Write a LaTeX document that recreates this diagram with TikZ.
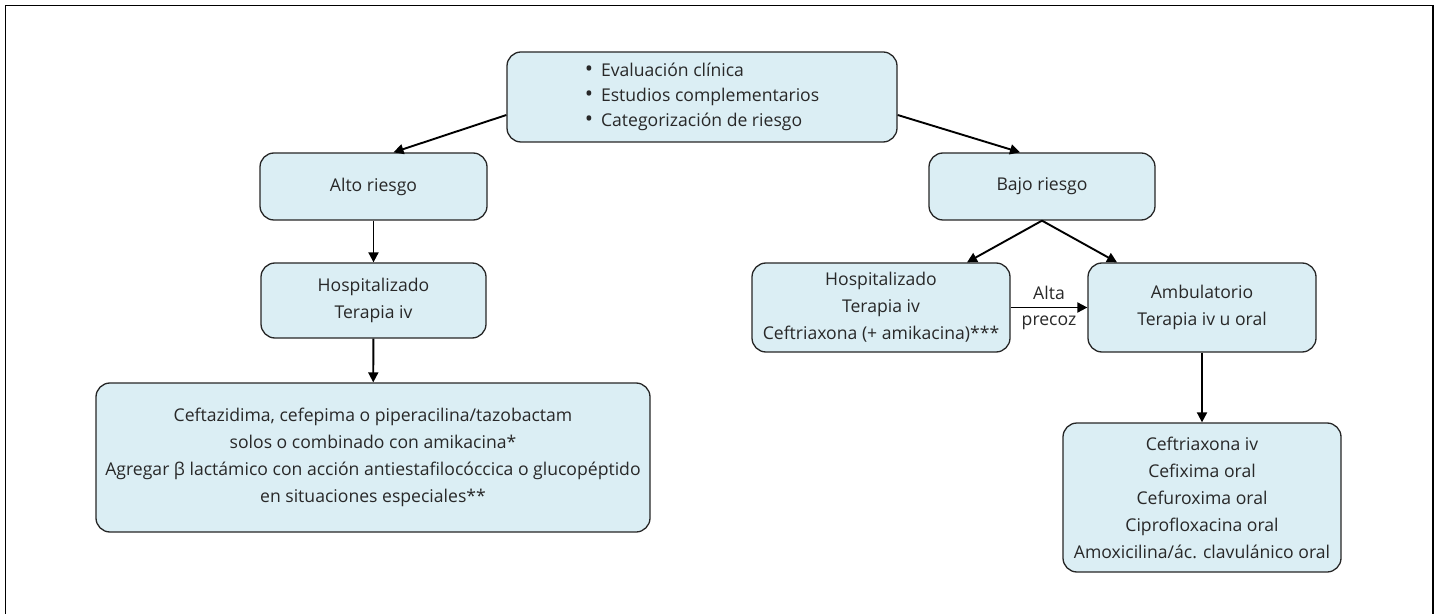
\documentclass[tikz,border=0pt]{standalone}
\usepackage{fontspec}
\setmainfont{Open Sans}
\usetikzlibrary{arrows.meta}
\definecolor{boxfill}{RGB}{219,238,244}
\definecolor{txt}{RGB}{40,40,40}
\newcommand{\bul}{{\fontsize{11}{12}\selectfont\textbullet}\hspace{4pt}}
\tikzset{
  box/.style={draw=black!85, line width=0.65pt, fill=boxfill, rounded corners=7pt,
    align=center, text=txt, font=\fontsize{8.8}{13.5}\selectfont, inner sep=0pt},
  arr/.style={-{Triangle[length=5pt,width=5pt]}, line width=0.95pt},
  lbl/.style={align=center, text=txt, font=\fontsize{8.8}{13}\selectfont, inner sep=0pt},
}
\begin{document}
\begin{tikzpicture}[x=0.5pt,y=-0.5pt]
\useasboundingbox (0,0) rectangle (1438,614);
\draw[line width=0.8pt] (5.5,630) -- (5.5,5.5) -- (1433,5.5) -- (1433,630);

\node[box, minimum width=195pt, minimum height=45pt, font=\fontsize{8.8}{12.5}\selectfont, align=left] (top) at (702,97)
  {\bul Evaluación clínica\\
   \bul Estudios complementarios\\
   \bul Categorización de riesgo};
\node[box, minimum width=113.5pt, minimum height=33.5pt] (alto) at (373.5,186.5) {Alto riesgo};
\node[box, minimum width=112.5pt, minimum height=37.5pt] (hospL) at (373.5,300.5) {Hospitalizado\\Terapia iv};
\node[box, minimum width=277pt, minimum height=74.5pt] (big) at (373,457.5)
  {Ceftazidima, cefepima o piperacilina/tazobactam\\
   solos o combinado con amikacina*\\
   Agregar β lactámico con acción antiestafilocóccica o glucopéptido\\
   en situaciones especiales**};
\node[box, minimum width=113pt, minimum height=33.5pt] (bajo) at (1042,186.5) {Bajo riesgo};
\node[box, minimum width=129pt, minimum height=44.5pt] (hospR) at (881,307.5)
  {Hospitalizado\\Terapia iv\\Ceftriaxona (+ amikacina)***};
\node[box, minimum width=114pt, minimum height=44.5pt] (amb) at (1202,307.5)
  {Ambulatorio\\Terapia iv u oral};
\node[box, minimum width=139pt, minimum height=74.5pt] (bot) at (1202,497.5)
  {Ceftriaxona iv\\Cefixima oral\\Cefuroxima oral\\Ciprofloxacina oral\\Amoxicilina/ác. clavulánico oral};

\draw[arr] ([yshift=-9pt]top.west) -- ([xshift=10pt]alto.north);
\draw[arr] ([yshift=-9pt]top.east) -- ([xshift=-11pt]bajo.north);
\draw[arr] (alto) -- (hospL);
\draw[arr] (hospL) -- (big);
\draw[arr] (bajo.south) -- ([xshift=43pt]hospR.north);
\draw[arr] (bajo.south) -- ([xshift=-42.5pt]amb.north);
\draw[arr] (hospR) -- node[lbl] {Alta\\precoz} (amb);
\draw[arr] (amb) -- (bot);
\end{tikzpicture}
\end{document}
